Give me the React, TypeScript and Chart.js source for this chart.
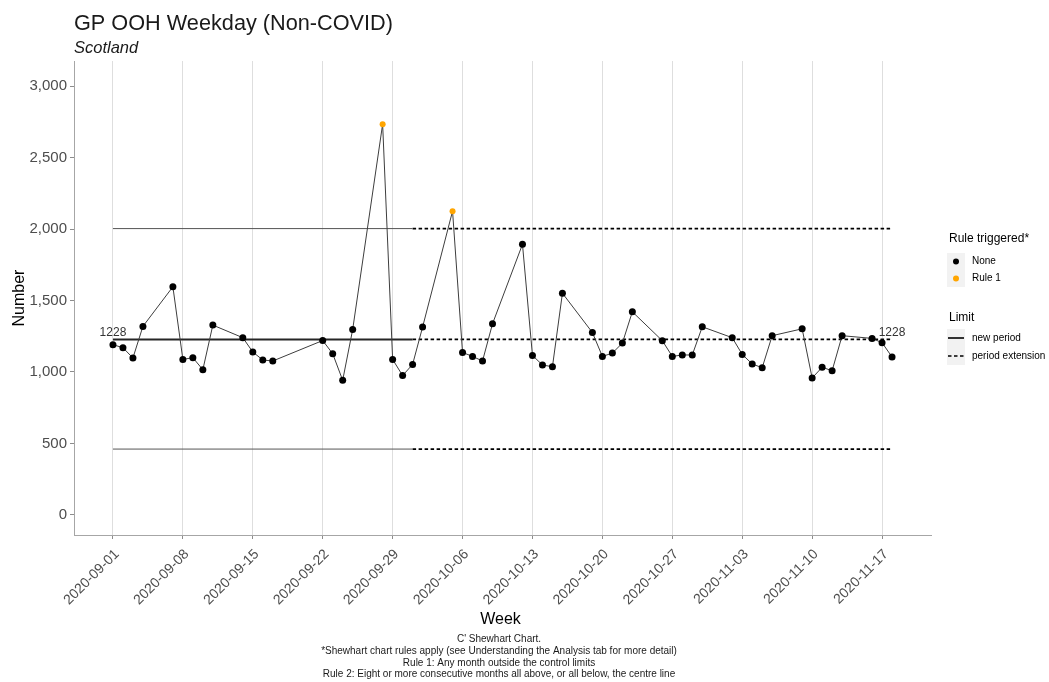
import React, { useEffect, useRef } from 'react';
import { Chart, registerables } from 'chart.js';

Chart.register(...registerables);

const FONT = '"Liberation Sans", Arial, Helvetica, sans-serif';

// ---- data ----
const weekDates: string[] = [
  '2020-09-01', '2020-09-02', '2020-09-03', '2020-09-04',
  '2020-09-07', '2020-09-08', '2020-09-09', '2020-09-10', '2020-09-11',
  '2020-09-14', '2020-09-15', '2020-09-16', '2020-09-17',
  '2020-09-22', '2020-09-23', '2020-09-24', '2020-09-25',
  '2020-09-28', '2020-09-29', '2020-09-30', '2020-10-01', '2020-10-02',
  '2020-10-05', '2020-10-06', '2020-10-07', '2020-10-08', '2020-10-09',
  '2020-10-12', '2020-10-13', '2020-10-14', '2020-10-15', '2020-10-16',
  '2020-10-19', '2020-10-20', '2020-10-21', '2020-10-22', '2020-10-23',
  '2020-10-26', '2020-10-27', '2020-10-28', '2020-10-29', '2020-10-30',
  '2020-11-02', '2020-11-03', '2020-11-04', '2020-11-05', '2020-11-06',
  '2020-11-09', '2020-11-10', '2020-11-11', '2020-11-12', '2020-11-13',
  '2020-11-16', '2020-11-17', '2020-11-18',
];

const weekValues: number[] = [
  1191, 1170, 1098, 1319,
  1596, 1088, 1100, 1016, 1328,
  1240, 1140, 1084, 1077,
  1220, 1128, 942, 1297,
  2733, 1088, 975, 1053, 1314,
  2125, 1137, 1109, 1077, 1337,
  1893, 1116, 1049, 1037, 1551,
  1276, 1109, 1132, 1202, 1421,
  1219, 1109, 1119, 1119, 1316,
  1240, 1123, 1056, 1030, 1254,
  1302, 958, 1033, 1009, 1254,
  1235, 1205, 1105,
];

const ruleTriggered: string[] = weekDates.map((d) =>
  d === '2020-09-28' || d === '2020-10-05' ? 'Rule 1' : 'None'
);

const xTickLabels: string[] = [
  '2020-09-01', '2020-09-08', '2020-09-15', '2020-09-22', '2020-09-29', '2020-10-06',
  '2020-10-13', '2020-10-20', '2020-10-27', '2020-11-03', '2020-11-10', '2020-11-17',
];

const yTickValues: number[] = [0, 500, 1000, 1500, 2000, 2500, 3000];

const centreLine = 1228;
const upperLimit = 2003;
const lowerLimit = 461;
const periodStart = '2020-09-01';
const periodBreak = '2020-10-01';
const periodEnd = '2020-11-18';

const titleText = 'GP OOH Weekday (Non-COVID)';
const subtitleText = 'Scotland';
const xTitle = 'Week';
const yTitle = 'Number';
const captionLines: string[] = [
  "C' Shewhart Chart.",
  '*Shewhart chart rules apply (see Understanding the Analysis tab for more detail)',
  'Rule 1: Any month outside the control limits',
  'Rule 2: Eight or more consecutive months all above, or all below, the centre line',
];
const ruleLegend: string[] = ['None', 'Rule 1'];
const limitLegend: string[] = ['new period', 'period extension'];

const ruleColours: Record<string, string> = { None: '#000000', 'Rule 1': '#FFA500' };

// ---- helpers ----
const BASE = Date.UTC(2020, 8, 1);
function dayIndex(d: string): number {
  const [y, m, dd] = d.split('-').map(Number);
  return Math.round((Date.UTC(y, m - 1, dd) - BASE) / 86400000);
}
function dayLabel(v: number): string {
  const dt = new Date(BASE + v * 86400000);
  const mm = String(dt.getUTCMonth() + 1).padStart(2, '0');
  const dd = String(dt.getUTCDate()).padStart(2, '0');
  return `${dt.getUTCFullYear()}-${mm}-${dd}`;
}

const annotatePlugin = {
  id: 'annotate',
  afterDraw(chart: any) {
    const ctx: CanvasRenderingContext2D = chart.ctx;
    const { left, right, top, bottom } = chart.chartArea;
    const xs = chart.scales.x;
    const ys = chart.scales.y;
    ctx.save();

    // centre line value labels
    ctx.font = `12px ${FONT}`;
    ctx.fillStyle = '#333333';
    ctx.textAlign = 'center';
    ctx.textBaseline = 'bottom';
    const cy = ys.getPixelForValue(centreLine);
    ctx.fillText(String(centreLine), xs.getPixelForValue(dayIndex(periodStart)), cy - 1);
    ctx.fillText(String(centreLine), xs.getPixelForValue(dayIndex(periodEnd)), cy - 1);

    // title & subtitle
    ctx.textAlign = 'left';
    ctx.textBaseline = 'alphabetic';
    ctx.fillStyle = '#1a1a1a';
    ctx.font = `21.7px ${FONT}`;
    ctx.fillText(titleText, left, 30);
    ctx.font = `italic 16.5px ${FONT}`;
    ctx.fillText(subtitleText, left, 53);

    // axis titles
    ctx.fillStyle = '#000000';
    ctx.font = `16px ${FONT}`;
    ctx.textAlign = 'center';
    ctx.textBaseline = 'middle';
    ctx.fillText(xTitle, (left + right) / 2 - 2, 620);
    ctx.save();
    ctx.translate(20, (top + bottom) / 2);
    ctx.rotate(-Math.PI / 2);
    ctx.fillText(yTitle, 0, 0);
    ctx.restore();

    // caption
    ctx.font = `10px ${FONT}`;
    ctx.fillStyle = '#1a1a1a';
    captionLines.forEach((line, i) => {
      ctx.fillText(line, 499, 639.5 + i * 11.7);
    });

    // legend: rule triggered
    const lx = 947;
    ctx.textAlign = 'left';
    ctx.font = `12px ${FONT}`;
    ctx.fillStyle = '#000000';
    ctx.fillText('Rule triggered*', 949, 239);
    ruleLegend.forEach((name, i) => {
      const y0 = 253 + i * 17;
      ctx.fillStyle = '#f2f2f2';
      ctx.fillRect(lx, y0, 18, 17);
      ctx.fillStyle = ruleColours[name];
      ctx.beginPath();
      ctx.arc(lx + 9, y0 + 8.5, 3, 0, Math.PI * 2);
      ctx.fill();
      ctx.fillStyle = '#000000';
      ctx.font = `10px ${FONT}`;
      ctx.fillText(name, 972, y0 + 8.5);
    });

    // legend: limit
    ctx.font = `12px ${FONT}`;
    ctx.fillText('Limit', 949, 318);
    limitLegend.forEach((name, i) => {
      const y0 = 329 + i * 18;
      ctx.fillStyle = '#f2f2f2';
      ctx.fillRect(lx, y0, 18, 18);
      ctx.strokeStyle = '#000000';
      ctx.lineWidth = 1.6;
      ctx.setLineDash(i === 0 ? [] : [3.5, 2.5]);
      ctx.beginPath();
      ctx.moveTo(lx + 1, y0 + 9);
      ctx.lineTo(lx + 17, y0 + 9);
      ctx.stroke();
      ctx.setLineDash([]);
      ctx.fillStyle = '#000000';
      ctx.font = `10px ${FONT}`;
      ctx.fillText(name, 972, y0 + 9);
    });

    ctx.restore();
  },
};

function limitSegment(y: number, from: string, to: string) {
  return [
    { x: dayIndex(from), y },
    { x: dayIndex(to), y },
  ];
}

export default function App() {
  const canvasRef = useRef<HTMLCanvasElement | null>(null);

  useEffect(() => {
    if (!canvasRef.current) return;
    const xMinData = dayIndex(weekDates[0]);
    const xMaxData = dayIndex(weekDates[weekDates.length - 1]);
    const expand = (xMaxData - xMinData) * 0.05;

    const seriesPoints = weekDates.map((d, i) => ({ x: dayIndex(d), y: weekValues[i] }));
    const pointColours = ruleTriggered.map((r) => ruleColours[r]);
    const pointRadii = ruleTriggered.map((r) => (r === 'None' ? 3.5 : 3));

    const solid = { borderDash: [] as number[], pointRadius: 0, fill: false, tension: 0 };
    const dashed = { borderDash: [3.5, 2.5], pointRadius: 0, fill: false, tension: 0 };

    const chart = new Chart(canvasRef.current, {
      type: 'line',
      data: {
        datasets: [
          {
            label: 'Number',
            data: seriesPoints,
            borderColor: '#3d3d3d',
            borderWidth: 1,
            pointBackgroundColor: pointColours,
            pointBorderWidth: 0,
            pointRadius: pointRadii,
            tension: 0,
            order: 0,
          },
          { label: 'centre', data: limitSegment(centreLine, periodStart, periodBreak), borderColor: '#262626', borderWidth: 2, ...solid, order: 1 },
          { label: 'upper', data: limitSegment(upperLimit, periodStart, periodBreak), borderColor: '#555555', borderWidth: 1, ...solid, order: 1 },
          { label: 'lower', data: limitSegment(lowerLimit, periodStart, periodBreak), borderColor: '#555555', borderWidth: 1, ...solid, order: 1 },
          { label: 'centre ext', data: limitSegment(centreLine, periodBreak, periodEnd), borderColor: '#000000', borderWidth: 1.8, ...dashed, order: 1 },
          { label: 'upper ext', data: limitSegment(upperLimit, periodBreak, periodEnd), borderColor: '#000000', borderWidth: 1.8, ...dashed, order: 1 },
          { label: 'lower ext', data: limitSegment(lowerLimit, periodBreak, periodEnd), borderColor: '#000000', borderWidth: 1.8, ...dashed, order: 1 },
        ],
      },
      options: {
        responsive: false,
        devicePixelRatio: 1,
        animation: false,
        layout: { padding: { top: 61, right: 118, bottom: 0, left: 0 } },
        plugins: {
          legend: { display: false },
          tooltip: { enabled: false },
          title: { display: false },
        },
        scales: {
          x: {
            type: 'linear',
            min: xMinData - expand,
            max: xMaxData + expand,
            afterBuildTicks: (scale: any) => {
              scale.ticks = xTickLabels.map((d) => ({ value: dayIndex(d) }));
            },
            afterFit: (scale: any) => {
              scale.height = 147;
            },
            ticks: {
              autoSkip: false,
              minRotation: 45,
              maxRotation: 45,
              padding: 7,
              labelOffset: 4,
              color: '#4d4d4d',
              font: { family: FONT, size: 14 },
              callback: (v: any) => dayLabel(Number(v)),
            },
            grid: {
              display: true,
              color: '#dedede',
              lineWidth: 1,
              drawTicks: true,
              tickLength: 4,
              tickColor: '#8c8c8c',
            },
            border: { display: true, color: '#a6a6a6', width: 1 },
          },
          y: {
            type: 'linear',
            min: -140,
            max: 3175,
            afterBuildTicks: (scale: any) => {
              scale.ticks = yTickValues.map((v) => ({ value: v }));
            },
            afterFit: (scale: any) => {
              scale.width = 74;
            },
            ticks: {
              padding: 3,
              color: '#4d4d4d',
              font: { family: FONT, size: 15 },
              callback: (v: any) => Number(v).toLocaleString('en-US'),
            },
            grid: {
              drawOnChartArea: false,
              drawTicks: true,
              tickLength: 4,
              tickColor: '#8c8c8c',
            },
            border: { display: true, color: '#a6a6a6', width: 1 },
          },
        },
      },
      plugins: [annotatePlugin],
    } as any);

    return () => chart.destroy();
  }, []);

  return (
    <div style={{ position: 'fixed', left: 0, top: 0, width: 1049, height: 682, background: '#ffffff' }}>
      <canvas ref={canvasRef} width={1049} height={682} style={{ display: 'block' }} />
    </div>
  );
}
